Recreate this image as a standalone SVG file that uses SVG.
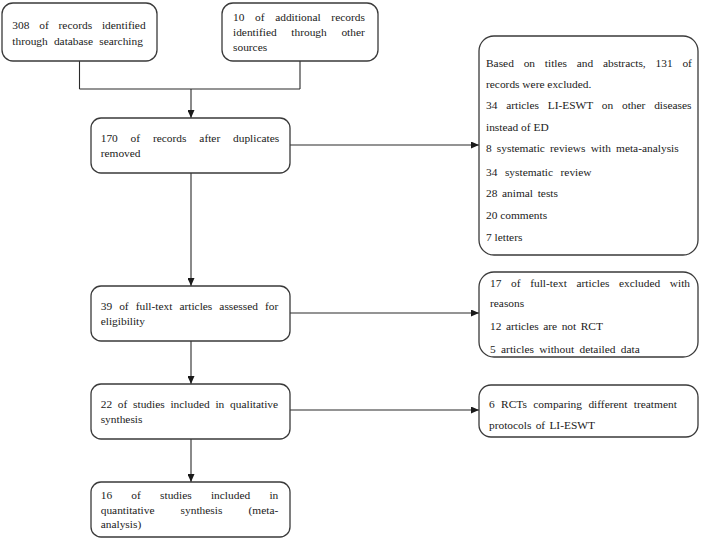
<svg xmlns="http://www.w3.org/2000/svg" width="701" height="539" viewBox="0 0 701 539">
<style>
.box{fill:#fff;stroke:#3a3a3a;stroke-width:1.3}
.t{font-family:"Liberation Serif","Times New Roman",serif;font-size:11.4px;fill:#1a1a1a}
.c{fill:none;stroke:#2a2a2a;stroke-width:1.1}
</style>
<defs>
<marker id="ah" markerUnits="userSpaceOnUse" markerWidth="8" markerHeight="7" refX="8" refY="3.5" orient="auto">
<path d="M0,0 L8,3.5 L0,7 z" fill="#1a1a1a"/>
</marker>
</defs>
<rect width="701" height="539" fill="#fff"/>
<g id="connectors">
<path class="c" d="M79.5,61 V89 M300,61 V89 M79.5,89 H300"/>
<path class="c" d="M191,89 V118" marker-end="url(#ah)"/>
<path class="c" d="M290,145 H479" marker-end="url(#ah)"/>
<path class="c" d="M191,173 V286" marker-end="url(#ah)"/>
<path class="c" d="M290,313 H479" marker-end="url(#ah)"/>
<path class="c" d="M191,341 V384" marker-end="url(#ah)"/>
<path class="c" d="M290,410 H479" marker-end="url(#ah)"/>
<path class="c" d="M191,439 V482" marker-end="url(#ah)"/>
</g>
<g id="n1">
<rect class="box" x="2" y="3" width="155" height="58" rx="11"/>
<text class="t" x="12.3" y="29" word-spacing="7">308 of records identified</text>
<text class="t" x="12.3" y="45" word-spacing="3.3">through database searching</text>
</g>
<g id="n2">
<rect class="box" x="222" y="3" width="156" height="58" rx="11"/>
<text class="t" x="233" y="20.5" word-spacing="7.8">10 of additional records</text>
<text class="t" x="233" y="35.7" word-spacing="11.8">identified through other</text>
<text class="t" x="233" y="50.5">sources</text>
</g>
<g id="n3">
<rect class="box" x="91" y="118" width="199" height="55" rx="10"/>
<text class="t" x="100.7" y="141.7" word-spacing="10">170 of records after duplicates</text>
<text class="t" x="100.7" y="157">removed</text>
</g>
<g id="n4">
<rect class="box" x="91" y="286" width="199" height="55" rx="10"/>
<text class="t" x="100.7" y="309.5" word-spacing="4.2">39 of full-text articles assessed for</text>
<text class="t" x="100.7" y="324.5">eligibility</text>
</g>
<g id="n5">
<rect class="box" x="91" y="384" width="199" height="55" rx="10"/>
<text class="t" x="100.7" y="407.5" word-spacing="2.9">22 of studies included in qualitative</text>
<text class="t" x="100.7" y="423">synthesis</text>
</g>
<g id="n6">
<rect class="box" x="91" y="482" width="199" height="55" rx="10"/>
<text class="t" x="100.7" y="499" word-spacing="16.4">16 of studies included in</text>
<text class="t" x="100.7" y="513.5" word-spacing="23.3">quantitative synthesis (meta-</text>
<text class="t" x="100.7" y="528">analysis)</text>
</g>
<g id="r1">
<rect class="box" x="479" y="36" width="219" height="219" rx="15"/>
<text class="t" x="486" y="67" word-spacing="6.95">Based on titles and abstracts, 131 of</text>
<text class="t" x="486" y="88">records were excluded.</text>
<text class="t" x="486" y="108.5" word-spacing="5.9">34 articles LI-ESWT on other diseases</text>
<text class="t" x="486" y="130.5">instead of ED</text>
<text class="t" x="486" y="152" word-spacing="2.3">8 systematic reviews with meta-analysis</text>
<text class="t" x="486" y="175.5" word-spacing="4.7">34 systematic review</text>
<text class="t" x="486" y="197" word-spacing="1.8">28 animal tests</text>
<text class="t" x="486" y="218.5">20 comments</text>
<text class="t" x="486" y="241">7 letters</text>
</g>
<g id="r2">
<rect class="box" x="479" y="272" width="219" height="85" rx="15"/>
<text class="t" x="490" y="287.3" word-spacing="6.8">17 of full-text articles excluded with</text>
<text class="t" x="490" y="307">reasons</text>
<text class="t" x="490" y="330" word-spacing="1.65">12 articles are not RCT</text>
<text class="t" x="490" y="353" word-spacing="2.5">5 articles without detailed data</text>
</g>
<g id="r3">
<rect class="box" x="479" y="385" width="219" height="52" rx="12"/>
<text class="t" x="489" y="407.7" word-spacing="3.55">6 RCTs comparing different treatment</text>
<text class="t" x="489" y="429.3" word-spacing="1.4">protocols of LI-ESWT</text>
</g>
</svg>
